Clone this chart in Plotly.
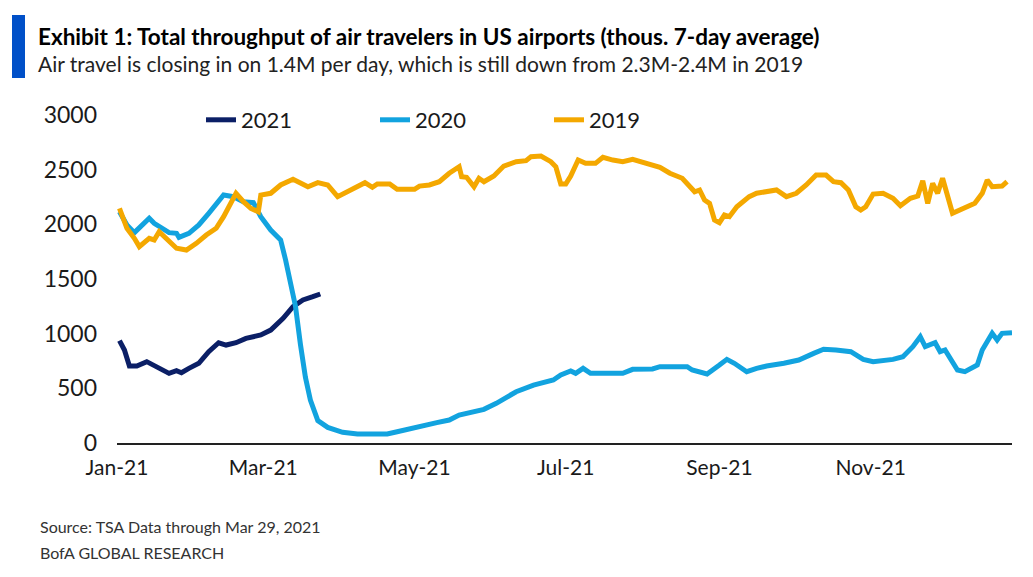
import plotly.graph_objects as go

# 1. THE DATA (thousands of travelers, 7-day average)
dates_2021 = ['2021-01-02', '2021-01-04', '2021-01-06', '2021-01-09', '2021-01-13', '2021-01-17',
              '2021-01-22', '2021-01-25', '2021-01-27', '2021-01-30', '2021-02-03', '2021-02-07',
              '2021-02-11', '2021-02-14', '2021-02-18', '2021-02-22', '2021-02-28', '2021-03-04',
              '2021-03-09', '2021-03-13', '2021-03-17', '2021-03-21', '2021-03-24']
vals_2021 = [936, 850, 704, 704, 744, 698, 637, 662, 643, 683, 729, 835,
             917, 896, 917, 957, 988, 1033, 1140, 1247, 1308, 1338, 1363]

dates_2020 = ['2021-01-02', '2021-01-05', '2021-01-08', '2021-01-11', '2021-01-14', '2021-01-16',
              '2021-01-19', '2021-01-22', '2021-01-25', '2021-01-26', '2021-01-30', '2021-02-03',
              '2021-02-07', '2021-02-11', '2021-02-13', '2021-02-17', '2021-02-21', '2021-02-25',
              '2021-02-28', '2021-03-04', '2021-03-08', '2021-03-10', '2021-03-13', '2021-03-14',
              '2021-03-16', '2021-03-18', '2021-03-20', '2021-03-23', '2021-03-27', '2021-04-02',
              '2021-04-08', '2021-04-20', '2021-04-24', '2021-05-02', '2021-05-10', '2021-05-15',
              '2021-05-19', '2021-05-29', '2021-06-03', '2021-06-11', '2021-06-18', '2021-06-26',
              '2021-06-29', '2021-07-03', '2021-07-05', '2021-07-08', '2021-07-11', '2021-07-15',
              '2021-07-24', '2021-07-28', '2021-08-02', '2021-08-05', '2021-08-08', '2021-08-19',
              '2021-08-21', '2021-08-27', '2021-09-01', '2021-09-04', '2021-09-07', '2021-09-09',
              '2021-09-12', '2021-09-16', '2021-09-20', '2021-09-27', '2021-10-03', '2021-10-09',
              '2021-10-13', '2021-10-18', '2021-10-24', '2021-10-29', '2021-11-02', '2021-11-10',
              '2021-11-14', '2021-11-18', '2021-11-21', '2021-11-23', '2021-11-27', '2021-11-29',
              '2021-12-01', '2021-12-06', '2021-12-09', '2021-12-14', '2021-12-16', '2021-12-20',
              '2021-12-22', '2021-12-24', '2021-12-28']
vals_2020 = [2115, 1994, 1924, 1994, 2055, 2009,
             1964, 1924, 1918, 1881, 1918, 1994,
             2101, 2222, 2268, 2253, 2207, 2198,
             2070, 1948, 1857, 1674, 1369, 1250,
             900, 600, 393, 205, 143, 98,
             82, 82, 103, 149, 186, 210,
             256, 308, 363, 469, 530, 576,
             622, 659, 637, 683, 637, 637,
             637, 674, 680, 677, 698, 698,
             668, 631, 713, 765, 729, 698,
             652, 683, 704, 729, 759, 820,
             857, 851, 835, 765, 744, 765,
             789, 881, 972, 881, 917, 835,
             851, 668, 652, 713, 851, 1003,
             942, 1003, 1009]

dates_2019 = ['2021-01-02', '2021-01-05', '2021-01-08', '2021-01-10', '2021-01-14', '2021-01-16',
              '2021-01-18', '2021-01-21', '2021-01-25', '2021-01-29', '2021-02-02', '2021-02-06',
              '2021-02-10', '2021-02-13', '2021-02-16', '2021-02-18', '2021-02-21', '2021-02-24',
              '2021-02-27', '2021-02-28', '2021-03-04', '2021-03-08', '2021-03-13', '2021-03-19',
              '2021-03-23', '2021-03-27', '2021-03-31', '2021-04-06', '2021-04-11', '2021-04-14',
              '2021-04-16', '2021-04-21', '2021-04-24', '2021-05-01', '2021-05-03', '2021-05-07',
              '2021-05-11', '2021-05-15', '2021-05-19', '2021-05-20', '2021-05-22', '2021-05-25',
              '2021-05-27', '2021-05-29', '2021-06-02', '2021-06-06', '2021-06-11', '2021-06-15',
              '2021-06-17', '2021-06-21', '2021-06-25', '2021-06-27', '2021-06-29', '2021-07-01',
              '2021-07-03', '2021-07-06', '2021-07-09', '2021-07-13', '2021-07-16', '2021-07-20',
              '2021-07-24', '2021-07-28', '2021-08-03', '2021-08-08', '2021-08-12', '2021-08-17',
              '2021-08-22', '2021-08-24', '2021-08-26', '2021-08-28', '2021-08-30', '2021-09-01',
              '2021-09-03', '2021-09-05', '2021-09-08', '2021-09-13', '2021-09-16', '2021-09-20',
              '2021-09-24', '2021-09-28', '2021-10-02', '2021-10-06', '2021-10-10', '2021-10-14',
              '2021-10-17', '2021-10-20', '2021-10-23', '2021-10-26', '2021-10-28', '2021-10-30',
              '2021-11-02', '2021-11-06', '2021-11-10', '2021-11-13', '2021-11-17', '2021-11-20',
              '2021-11-22', '2021-11-24', '2021-11-26', '2021-11-28', '2021-11-30', '2021-12-04',
              '2021-12-09', '2021-12-13', '2021-12-16', '2021-12-18', '2021-12-20', '2021-12-24',
              '2021-12-26']
vals_2019 = [2146, 1964, 1872, 1796, 1872, 1857,
             1933, 1872, 1781, 1765, 1826, 1902,
             1964, 2070, 2207, 2284, 2207, 2146,
             2115, 2268, 2284, 2360, 2412, 2344,
             2381, 2360, 2253, 2320, 2381, 2338,
             2369, 2369, 2320, 2320, 2350, 2360,
             2390, 2467, 2527, 2436, 2430, 2344,
             2421, 2390, 2442, 2533, 2573, 2582,
             2619, 2625, 2573, 2527, 2369, 2369,
             2442, 2588, 2558, 2558, 2613, 2588,
             2573, 2595, 2552, 2521, 2467, 2421,
             2298, 2314, 2222, 2192, 2040, 2015,
             2085, 2070, 2161, 2253, 2284, 2298,
             2314, 2253, 2284, 2360, 2451, 2451,
             2390, 2381, 2314, 2161, 2131, 2161,
             2277, 2284, 2238, 2170, 2238, 2259,
             2399, 2192, 2375, 2284, 2421, 2101,
             2146, 2192, 2284, 2405, 2344, 2350,
             2390]

tick_dates = ['2021-01-01', '2021-03-01', '2021-05-01', '2021-07-01', '2021-09-01', '2021-11-01']
tick_labels = ['Jan-21', 'Mar-21', 'May-21', 'Jul-21', 'Sep-21', 'Nov-21']

FONT = "Lato, Roboto, sans-serif"

# plot area in page pixels (page body has an 8px margin)
PL, PT, PW, PH = 117, 115, 895, 328

# 2. THE CHART
fig = go.Figure()
fig.add_trace(go.Scatter(x=dates_2021, y=vals_2021, name='2021', mode='lines',
                         line=dict(color='#0B1F66', width=5)))
fig.add_trace(go.Scatter(x=dates_2020, y=vals_2020, name='2020', mode='lines',
                         line=dict(color='#12A3DF', width=5)))
fig.add_trace(go.Scatter(x=dates_2019, y=vals_2019, name='2019', mode='lines',
                         line=dict(color='#F4A800', width=5)))

fig.update_layout(
    width=1033, height=577,
    margin=dict(l=PL - 8, r=29, t=PT - 8, b=142),
    plot_bgcolor='white', paper_bgcolor='white',
    font=dict(family=FONT, color='#1a1a1a', size=22),
    showlegend=True,
    legend=dict(orientation='h', x=(201 - PL) / PW, y=1 + (PT - 120) / PH, xanchor='left', yanchor='middle',
                entrywidth=129, font=dict(size=22), bgcolor='rgba(0,0,0,0)'),
    xaxis=dict(range=['2021-01-01', '2021-12-28'], tickvals=tick_dates, ticktext=tick_labels,
               showgrid=False, zeroline=False, showline=True, linecolor='#222', linewidth=2,
               ticks='', ticklabelstandoff=5, tickfont=dict(size=21)),
    yaxis=dict(range=[0, 3000], tickvals=[0, 500, 1000, 1500, 2000, 2500, 3000],
               showgrid=False, zeroline=False, showline=False, ticks='',
               ticklabelstandoff=19, tickfont=dict(size=23)),
)

# title block with blue marker bar
fig.add_shape(type='rect', xref='paper', yref='paper',
              x0=(12 - PL) / PW, x1=(25 - PL) / PW,
              y0=1 + (PT - 78) / PH, y1=1 + (PT - 15) / PH,
              fillcolor='#0050C8', line_width=0)
fig.add_annotation(xref='paper', yref='paper', x=(36 - PL) / PW, y=1 + (PT - 36) / PH,
                   xanchor='left', yanchor='middle', showarrow=False,
                   text='<b>Exhibit 1: Total throughput of air travelers in US airports (thous. 7-day average)</b>',
                   font=dict(size=22.5, color='#000000'))
fig.add_annotation(xref='paper', yref='paper', x=(36 - PL) / PW, y=1 + (PT - 64) / PH,
                   xanchor='left', yanchor='middle', showarrow=False,
                   text='Air travel is closing in on 1.4M per day, which is still down from 2.3M-2.4M in 2019',
                   font=dict(size=21, color='#222222'))
fig.add_annotation(xref='paper', yref='paper', x=(38 - PL) / PW, y=-(526 - PT - PH) / PH,
                   xanchor='left', yanchor='middle', showarrow=False,
                   text='Source: TSA Data through Mar 29, 2021', font=dict(size=16, color='#333333'))
fig.add_annotation(xref='paper', yref='paper', x=(38 - PL) / PW, y=-(552 - PT - PH) / PH,
                   xanchor='left', yanchor='middle', showarrow=False,
                   text='BofA GLOBAL RESEARCH', font=dict(size=16, color='#333333'))

fig.write_html("out.html")
